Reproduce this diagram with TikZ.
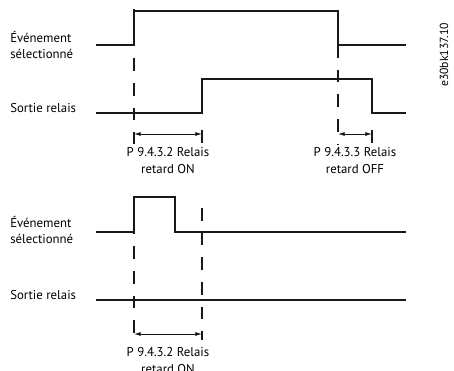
\documentclass[tikz,border=0pt]{standalone}
\usepackage{fontspec}
\setmainfont{PT Sans}
\usetikzlibrary{arrows.meta,positioning,calc}

\begin{document}
\begin{tikzpicture}[
      x=0.75pt, y=-0.75pt,
      signal/.style={line width=0.9pt, black!90},
      repere/.style={line width=0.8pt, black!90, dash pattern=on 9.5pt off 9pt},
      tick/.style={line width=0.8pt, black!90},
      cote/.style={{Latex[length=5pt,width=3pt]}-{Latex[length=5pt,width=3pt]},
                   line width=0.6pt, black!90},
      lbl/.style={font=\fontsize{9.6}{12}\selectfont, align=left, anchor=west,
                  inner sep=0pt, black},
      param/.style={font=\fontsize{9.6}{12.5}\selectfont, align=center,
                    inner sep=0pt, black}
  ]
      \useasboundingbox (0,0) rectangle (454,371);

      % Cas 1 : signaux
      \draw[signal] (96,45) -- (134,45) -- (134,11) -- (338,11) -- (338,45) -- (406,45);
      \draw[signal] (96,113) -- (202,113) -- (202,79) -- (372,79) -- (372,113) -- (406,113);

      % Cas 1 : reperes et cotes
      \coordinate (a1) at (134,134);
      \coordinate (b1) at (202,134);
      \coordinate (a2) at (338,134);
      \coordinate (b2) at (372,134);
      \coordinate (m1) at ($(a1)!0.5!(b1)$);
      \coordinate (m2) at ($(a2)!0.5!(b2)$);
      \draw[repere] (134,9) -- (134,144);
      \draw[repere] (338,45) -- (338,144);
      \draw[tick] (202,130) -- (202,143);
      \draw[tick] (372,130) -- (372,143);
      \draw[cote] (a1) -- (b1);
      \draw[cote] (a2) -- (b2);

      \node[lbl] (ev1) at (10,45) {Événement\\sélectionné};
      \node[lbl] (sr1) at (10,108) {Sortie relais};
      \node[param, below=10pt of m1] (on1) {P 9.4.3.2 Relais\\retard ON};
      \node[param, below=10pt of m2] (off1) {P 9.4.3.3 Relais\\retard OFF};

      % Cas 2 : impulsion courte
      \draw[signal] (96,232) -- (134,232) -- (134,197) -- (175,197) -- (175,232) -- (406,232);
      \draw[signal] (96,300) -- (406,300);

      \coordinate (a3) at (134,334);
      \coordinate (b3) at (202,334);
      \coordinate (m3) at ($(a3)!0.5!(b3)$);
      \draw[repere] (134,197) -- (134,340);
      \draw[repere] (202,208) -- (202,340);
      \draw[cote] (a3) -- (b3);

      \node[lbl] (ev2) at (10,230) {Événement\\sélectionné};
      \node[lbl] (sr2) at (10,295) {Sortie relais};
      \node[param, below=10pt of m3] (on2) {P 9.4.3.2 Relais\\retard ON};

      % Reference
      \node[rotate=90, font=\fontsize{8.8}{10}\selectfont, black] (ref) at (444,55) {e30bk137.10};
  \end{tikzpicture}
\end{document}
